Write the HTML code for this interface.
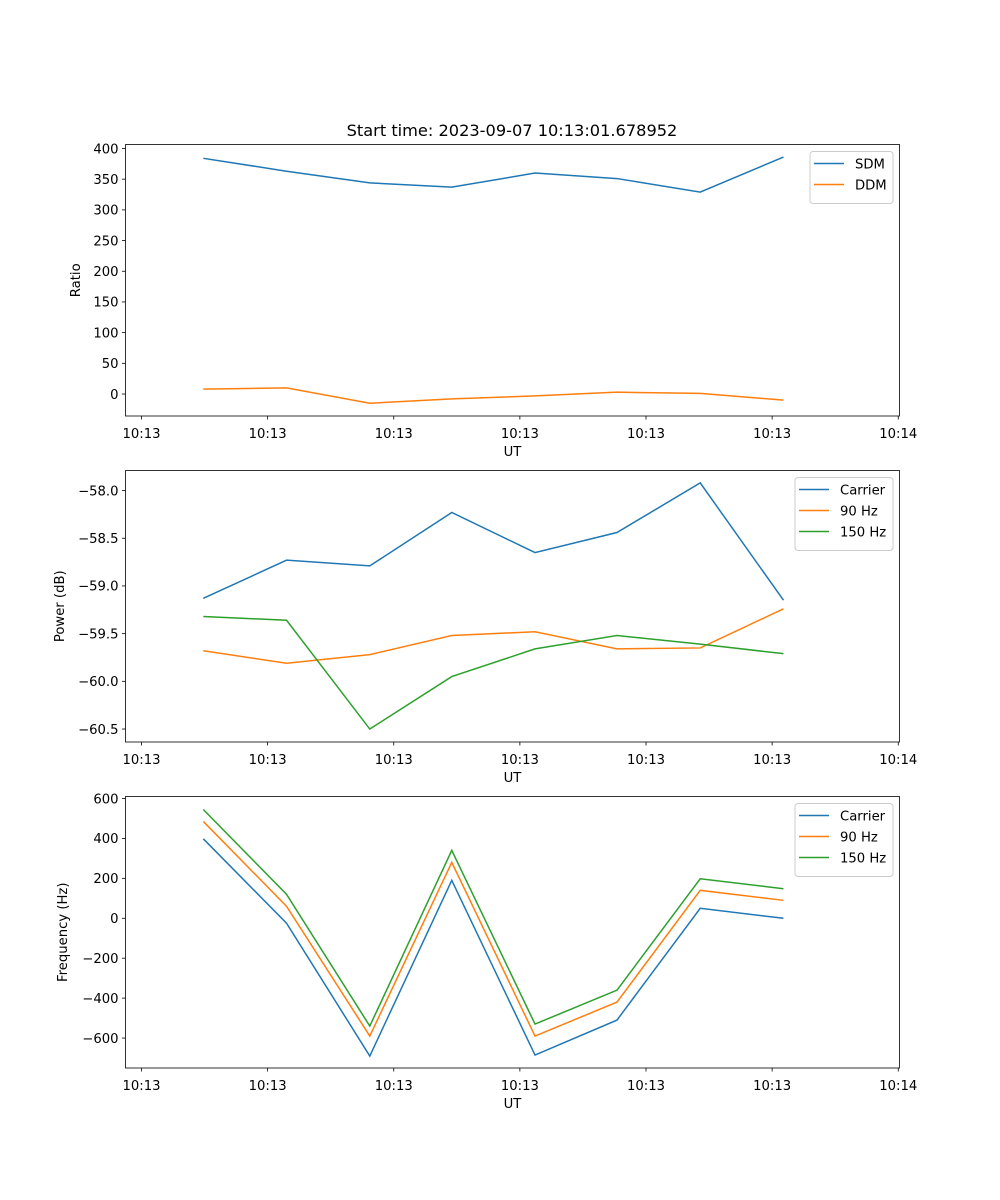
<!DOCTYPE html>
<html><head><meta charset="utf-8"><style>
body{margin:0;background:#fff}
svg{display:block;font-family:"DejaVu Sans","Liberation Sans",sans-serif}
</style></head><body>
<svg id="fig" width="1000" height="1200">
<text x="512" y="136" font-size="16.2" text-anchor="middle">Start time: 2023-09-07 10:13:01.678952</text>
</svg>
<script>
const xTickSecs=[0,10,20,30,40,50,60];
const xTickLabels=["10:13","10:13","10:13","10:13","10:13","10:13","10:14"];
const sampleSecs=[4.9,11.5,18.1,24.6,31.2,37.7,44.3,50.9];
const sdm=[384,363,344,337,360,351,329,386];
const ddm=[8,10,-15,-8,-3,3,1,-10];
const powCarrier=[-59.13,-58.73,-58.79,-58.23,-58.65,-58.44,-57.92,-59.15];
const pow90=[-59.68,-59.81,-59.72,-59.52,-59.48,-59.66,-59.65,-59.24];
const pow150=[-59.32,-59.36,-60.5,-59.95,-59.66,-59.52,-59.61,-59.71];
const freqCarrier=[398,-25,-690,190,-685,-510,50,0];
const freq90=[485,60,-590,280,-590,-420,140,90];
const freq150=[545,120,-540,340,-530,-360,198,148];
const ratioTicks=[0,50,100,150,200,250,300,350,400];
const powTicks=[-60.5,-60,-59.5,-59,-58.5,-58];
const freqTicks=[-600,-400,-200,0,200,400,600];

const NS="http://www.w3.org/2000/svg";
const svg=document.getElementById('fig');
const C=['#1f77b4','#ff7f0e','#2ca02c'];
const FS=13.2;
function mk(tag,attrs,parent){const e=document.createElementNS(NS,tag);for(const k in attrs)e.setAttribute(k,attrs[k]);(parent||svg).appendChild(e);return e;}
const L=125.5,R=899.5,XMIN=-1.27,XMAX=60.1;
const xs=s=>L+(s-XMIN)/(XMAX-XMIN)*(R-L);

function panel(name,top,bot,ymin,ymax,ticks,fmt,ylabel,series,names,leg){
  const g=mk('g',{});
  
  
  const ys=v=>bot-(v-ymin)/(ymax-ymin)*(bot-top);
  ticks.forEach(t=>{const y=ys(t);
    mk('line',{x1:L-3.5,x2:L,y1:y,y2:y,stroke:'#000','stroke-width':0.8},g);
    const tx=mk('text',{x:L-7,y:y+4.8,'font-size':FS,'text-anchor':'end'},g);tx.textContent=fmt(t);
    
    });
  xTickSecs.forEach((s,i)=>{const x=xs(s);
    mk('line',{x1:x,x2:x,y1:bot,y2:bot+3.5,stroke:'#000','stroke-width':0.8},g);
    const tx=mk('text',{x:x,y:bot+22,'font-size':FS,'text-anchor':'middle'},g);tx.textContent=xTickLabels[i];
    
    });
  series.forEach((d,k)=>{const p=mk('polyline',{points:d.map((v,i)=>xs(sampleSecs[i])+','+ys(v)).join(' '),fill:'none',stroke:C[k],'stroke-width':1.5},g);
    
    });
  mk('rect',{x:L,y:top,width:R-L,height:bot-top,fill:'none',stroke:'#000','stroke-width':0.8},g);
  const xl=mk('text',{x:(L+R)/2,y:bot+40,'font-size':FS,'text-anchor':'middle'},g);xl.textContent='UT';
  
  
  const cy=(top+bot)/2,lx=leg.ylx;
  const yl=mk('text',{x:lx,y:cy,'font-size':FS,'text-anchor':'middle',transform:`rotate(-90 ${lx} ${cy})`},g);yl.textContent=ylabel;
  
  
  const lg=mk('g',{},g);
  
  
  mk('rect',{x:leg.x,y:top+7,width:893-leg.x,height:names.length*21+10,rx:3,fill:'#fff',stroke:'#ccc','stroke-width':1},lg);
  names.forEach((n,k)=>{const y=top+19+k*21;
    mk('line',{x1:leg.x+4,x2:leg.x+34,y1:y,y2:y,stroke:C[k],'stroke-width':1.5},lg);
    const t=mk('text',{x:leg.x+45,y:y+4.8,'font-size':FS},lg);t.textContent=n;
    
    });
}
panel('ratio',144.5,416,-35.8,406.5,ratioTicks,v=>String(v),'Ratio',[sdm,ddm],['SDM','DDM'],{x:810,ylx:80});
panel('power',470.5,742,-60.636,-57.79,powTicks,v=>(v<0?'\u2212':'')+Math.abs(v).toFixed(1),'Power (dB)',[powCarrier,pow90,pow150],['Carrier','90 Hz','150 Hz'],{x:795,ylx:64});
panel('frequency',796.5,1068,-750,610,freqTicks,v=>(v<0?'\u2212':'')+Math.abs(v),'Frequency (Hz)',[freqCarrier,freq90,freq150],['Carrier','90 Hz','150 Hz'],{x:795,ylx:67});
</script>
</body></html>
